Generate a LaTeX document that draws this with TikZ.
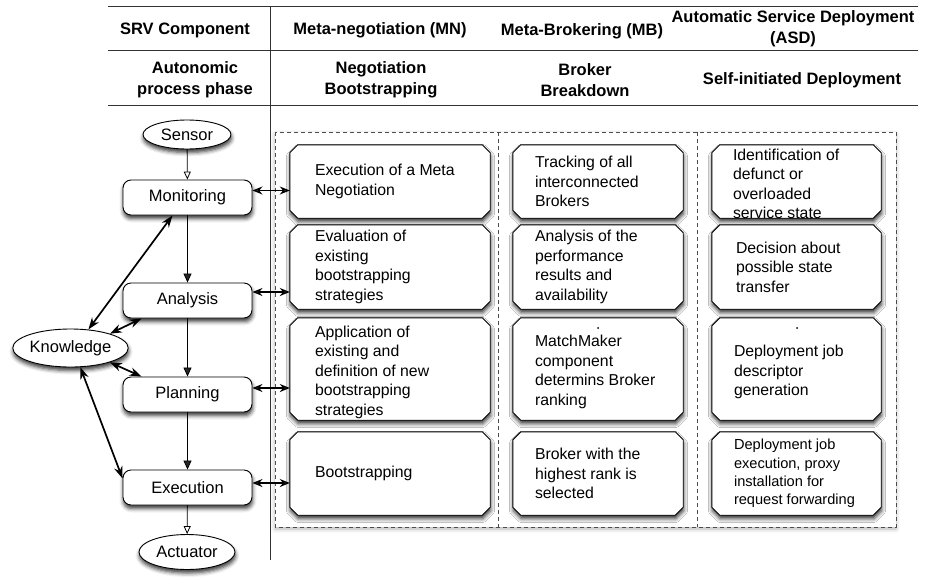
\documentclass[tikz,border=0pt]{standalone}
\usepackage{fontspec}
\setmainfont{Liberation Sans}
\usetikzlibrary{arrows.meta,shapes.geometric,shadows.blur}

% chamfered frame drawn around an (invisible) cell node
\newcommand\cellframe[1]{%
  \path[cellline] ([xshift=8pt]#1.north west) -- ([xshift=-8pt]#1.north east)
    -- ([yshift=-8pt]#1.north east) -- ([yshift=8pt]#1.south east)
    -- ([xshift=-8pt]#1.south east) -- ([xshift=8pt]#1.south west)
    -- ([yshift=8pt]#1.south west) -- ([yshift=-8pt]#1.north west) -- cycle;}

\begin{document}
\begin{tikzpicture}[x=1pt,y=-1pt,
  hdr/.style={font=\fontsize{16.5}{21}\selectfont\bfseries, align=center, inner sep=0},
  softshadow/.style={blur shadow={shadow xshift=0.5pt, shadow yshift=-3.5pt, shadow blur radius=4pt, shadow opacity=80}},
  phase/.style={draw=black, line width=0.9pt, rounded corners=8pt, fill=white,
    minimum width=129pt, minimum height=35pt, inner sep=0,
    font=\fontsize{16.5}{20}\selectfont, softshadow},
  io/.style={ellipse, draw=black, line width=0.9pt, fill=white, inner sep=0,
    font=\fontsize{16.5}{20}\selectfont, softshadow},
  cellbox/.style={draw=none, inner sep=0, rectangle},
  cellline/.style={draw=black, line width=0.9pt, fill=white, softshadow},
  celltext/.style={align=left, inner sep=0, anchor=west, font=\fontsize{15.8}{19.5}\selectfont},
  smalltext/.style={celltext, font=\fontsize{14.6}{18.3}\selectfont},
  flow/.style={-{Triangle[length=9pt,width=8pt]}, line width=0.8pt},
  feed/.style={-{Triangle[open,length=8pt,width=7pt]}, line width=0.8pt},
  kn/.style={{Stealth[length=12pt,width=8.5pt]}-{Stealth[length=12pt,width=8.5pt]}, line width=1.7pt},
  link/.style={{Stealth[length=10pt,width=8pt]}-{Stealth[length=10pt,width=8pt]}, line width=1.3pt},
  rule/.style={draw=black!80, line width=1pt},
  panelline/.style={draw=black!70, line width=0.8pt, dash pattern=on 4pt off 3pt},
]
\useasboundingbox (0,0) rectangle (926,576);

% ---- table header ----
\draw[rule] (108,6) -- (918,6);
\draw[rule] (108,50) -- (918,50);
\draw[rule] (108,105) -- (918,105);
\draw[draw=black!80, line width=0.8pt] (270,6) -- (270,560);

\node[hdr] (h1) at (185,30) {SRV Component};
\node[hdr] (h2) at (380,30) {Meta-negotiation (MN)};
\node[hdr] (h3) at (582,31) {Meta-Brokering (MB)};
\node[hdr] (h4) at (793,29) {Automatic Service Deployment\\(ASD)};
\node[hdr] (p1) at (195,80) {Autonomic\\process phase};
\node[hdr] (p2) at (381,80) {Negotiation\\Bootstrapping};
\node[hdr] (p3) at (585,80) {Broker\\Breakdown};
\node[hdr] (p4) at (802,80) {Self-initiated Deployment};

% ---- dashed panels ----
\path[fill=white, blur shadow={shadow xshift=0pt, shadow yshift=-2pt, shadow blur radius=4pt, shadow opacity=30}] (275,132) rectangle (896,527);
\draw[panelline] (275,132) rectangle (896,527);
\draw[panelline] (498,132) -- (498,527);
\draw[panelline] (697,132) -- (697,527);

% ---- autonomic loop ----
\node[io, minimum width=88pt, minimum height=29pt] (sen) at (187,134.5) {Sensor};
\node[phase] (mon) at (187.5,197.5) {Monitoring};
\node[phase] (ana) at (187.5,300.5) {Analysis};
\node[phase] (pla) at (187.5,394.5) {Planning};
\node[phase] (exe) at (187.5,487.5) {Execution};
\node[io, minimum width=96pt, minimum height=35pt] (act) at (187,552) {Actuator};
\node[io, minimum width=115pt, minimum height=38pt] (knw) at (70.5,348) {Knowledge};

\draw[feed] (sen) -- (mon);
\draw[flow] (mon) -- (ana);
\draw[flow] (ana) -- (pla);
\draw[flow] (pla) -- (exe);
\draw[feed] (exe) -- (act);

\draw[kn] (knw.46) -- ([xshift=-15pt]mon.south);
\draw[kn] (knw.20) -- ([xshift=19pt]ana.south west);
\draw[kn] (knw.-20) -- ([xshift=19pt]pla.north west);
\draw[kn] (knw.-63) -- ([yshift=9pt]exe.west);

% ---- cells: MN column ----
\node[cellbox, minimum width=200pt, minimum height=73pt] (mn1) at (390,181.5) {};
\node[cellbox, minimum width=200pt, minimum height=84pt] (mn2) at (390,267) {};
\node[cellbox, minimum width=200pt, minimum height=102pt] (mn3) at (390,369) {};
\node[cellbox, minimum width=200pt, minimum height=83pt] (mn4) at (390,473.5) {};
% ---- cells: MB column ----
\node[cellbox, minimum width=170pt, minimum height=73pt] (mb1) at (598,181.5) {};
\node[cellbox, minimum width=170pt, minimum height=84pt] (mb2) at (598,267) {};
\node[cellbox, minimum width=170pt, minimum height=102pt] (mb3) at (598,369) {};
\node[cellbox, minimum width=170pt, minimum height=83pt] (mb4) at (598,473.5) {};
% ---- cells: ASD column ----
\node[cellbox, minimum width=169pt, minimum height=73pt] (sd1) at (796.5,181.5) {};
\node[cellbox, minimum width=169pt, minimum height=84pt] (sd2) at (796.5,267) {};
\node[cellbox, minimum width=169pt, minimum height=102pt] (sd3) at (796.5,369) {};
\node[cellbox, minimum width=169pt, minimum height=83pt] (sd4) at (796.5,473.5) {};

\foreach \c in {mn1,mn2,mn3,mn4,mb1,mb2,mb3,mb4,sd1,sd2,sd3,sd4}{\cellframe{\c}}

\node[celltext] (t11) at ([xshift=25pt]mn1.west) {Execution of a Meta\\Negotiation};
\node[celltext] (t12) at ([xshift=25pt]mn2.west) {Evaluation of\\existing\\bootstrapping\\strategies};
\node[celltext] (t13) at ([xshift=25pt,yshift=-3pt]mn3.west) {Application of\\existing and\\definition of new\\bootstrapping\\strategies};
\node[celltext] (t14) at ([xshift=25pt]mn4.west) {Bootstrapping};

\node[celltext] (t21) at ([xshift=22pt]mb1.west) {Tracking of all\\interconnected\\Brokers};
\node[celltext] (t22) at ([xshift=22pt]mb2.west) {Analysis of the\\performance\\results and\\availability};
\node[celltext] (t23) at ([xshift=22pt,yshift=-3pt]mb3.west) {MatchMaker\\component\\determins Broker\\ranking};
\node[celltext] (t24) at ([xshift=22pt]mb4.west) {Broker with the\\highest rank is\\selected};

\node[celltext] (t31) at ([xshift=21pt,yshift=-2.5pt]sd1.west) {Identification of\\defunct or\\overloaded\\service state};
\node[celltext] (t32) at ([xshift=24pt]sd2.west) {Decision about\\possible state\\transfer};
\node[celltext] (t33) at ([xshift=22pt,yshift=-3pt]sd3.west) {Deployment job\\descriptor\\generation};
\node[smalltext] (t34) at ([xshift=22pt]sd4.west) {Deployment job\\execution, proxy\\installation for\\request forwarding};

% small marks above the third-row texts
\fill (598,328) circle (1pt);
\fill (797,328) circle (1pt);

% ---- links between phases and cells ----
\draw[link] ([yshift=7pt]mon.east) -- ([yshift=7pt]mon.east -| mn1.west);
\draw[link] ([yshift=8.5pt]ana.east) -- ([yshift=8.5pt]ana.east -| mn2.west);
\draw[link] ([yshift=6.5pt]pla.east) -- ([yshift=6.5pt]pla.east -| mn3.west);
\draw[link] ([yshift=4.5pt]exe.east) -- ([yshift=4.5pt]exe.east -| mn4.west);
\end{tikzpicture}
\end{document}
